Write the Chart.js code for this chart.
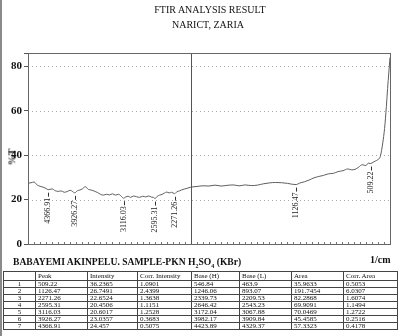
<!DOCTYPE html>
<html>
<head>
<meta charset="utf-8">
<script src="https://cdn.jsdelivr.net/npm/chart.js@4.4.1/dist/chart.umd.min.js"></script>
<style>
  body { margin: 0; background: #fff; }
  #page { position: relative; width: 400px; height: 336px; overflow: hidden; border-left: 2px solid #8a8a8a; box-sizing: border-box; font-family: "Liberation Serif", "Times New Roman", serif; color: #111; }
  #chart { position: absolute; left: -2px; top: 0; }
  .txt { position: absolute; white-space: nowrap; line-height: 1; }
  #ptable { position: absolute; left: 1px; top: 271px; border-collapse: collapse; table-layout: fixed; font-size: 7px; line-height: 6px; }
  #ptable td { border: 1px solid #444; padding: 0 2px; height: 6px; overflow: hidden; white-space: nowrap; }
  #ptable tr.head td { height: 8px; }
  #ptable td.idx { text-align: center; }
</style>
</head>
<body>
<div id="page">
  <canvas id="chart" width="400" height="270"></canvas>
  <div class="txt" style="left:0;width:416px;text-align:center;top:5px;font-size:10px;">FTIR ANALYSIS RESULT</div>
  <div class="txt" style="left:0;width:412px;text-align:center;top:20px;font-size:10px;">NARICT, ZARIA</div>
  <div class="txt" style="left:2px;top:152px;font-size:10px;font-weight:bold;transform:rotate(-90deg);transform-origin:center;">%T</div>
  <div class="txt" style="left:11px;top:257px;font-size:9.6px;font-weight:bold;">BABAYEMI AKINPELU. SAMPLE-PKN H<sub style="font-size:6px;">2</sub>SO<sub style="font-size:6px;">4</sub> (KBr)</div>
  <div class="txt" style="left:368px;top:255px;font-size:10px;font-weight:bold;">1/cm</div>
  <table id="ptable"></table>
</div>
<script>
// spectrum, wavenumber (1/cm) vs %T
var spectrumNu = [4700, 4650, 4600, 4550, 4500, 4450, 4400, 4366.91, 4300, 4250, 4200, 4150, 4100, 4050, 4000, 3960, 3926.27, 3880, 3840, 3800, 3750, 3700, 3650, 3600, 3550, 3500, 3450, 3400, 3350, 3300, 3250, 3200, 3150, 3116.03, 3080, 3040, 3000, 2950, 2900, 2850, 2800, 2750, 2700, 2650, 2620, 2595.31, 2560, 2520, 2480, 2440, 2400, 2360, 2320, 2271.26, 2230, 2190, 2150, 2100, 2050, 2000, 1950, 1900, 1850, 1800, 1750, 1700, 1650, 1600, 1550, 1500, 1450, 1400, 1350, 1300, 1250, 1200, 1160, 1126.47, 1100, 1060, 1020, 980, 940, 900, 860, 820, 780, 740, 700, 670, 640, 610, 580, 550, 530, 509.22, 490, 470, 450, 430, 410, 395, 380, 370, 360, 350];
var spectrumT = [27.3, 27.6, 27.9, 26.6, 26.0, 25.6, 25.0, 24.457, 24.8, 24.0, 23.7, 23.9, 23.3, 23.6, 24.2, 23.6, 23.0357, 24.0, 24.3, 24.8, 25.8, 24.6, 24.3, 23.8, 23.2, 22.4, 22.0, 22.4, 22.1, 22.6, 22.0, 22.4, 21.4, 20.6017, 21.2, 21.5, 21.0, 21.6, 21.3, 21.0, 21.5, 21.2, 21.6, 21.1, 21.0, 20.4506, 21.4, 22.0, 22.3, 22.9, 23.4, 23.0, 23.3, 22.6524, 23.6, 23.9, 24.4, 24.8, 25.2, 25.6, 25.9, 26.2, 26.1, 26.5, 26.1, 26.4, 26.6, 26.2, 26.6, 26.3, 26.5, 27.1, 27.5, 27.7, 27.6, 27.3, 26.9, 26.7491, 27.4, 28.0, 28.8, 29.8, 30.4, 30.9, 31.6, 31.8, 32.6, 33.0, 33.8, 33.4, 33.6, 34.6, 35.7, 35.3, 36.4, 36.2365, 36.8, 37.4, 38.0, 39.5, 45.5, 52, 62, 70, 77, 84];

// peak table
var peakNu = [509.22, 1126.47, 2271.26, 2595.31, 3116.03, 3926.27, 4366.91];
var intensity = [36.2365, 26.7491, 22.6524, 20.4506, 20.6017, 23.0357, 24.457];
var corrIntensity = ['1.0901', '2.4399', '1.3638', '1.1151', '1.2528', '0.3683', '0.5075'];
var baseH = ['546.84', '1246.06', '2339.73', '2646.42', '3172.04', '3982.17', '4423.89'];
var baseL = ['463.9', '893.07', '2209.53', '2543.23', '3067.88', '3909.84', '4329.37'];
var area = ['35.9633', '191.7454', '82.2868', '69.9091', '70.0469', '45.4585', '57.3323'];
var corrArea = ['0.5053', '6.0307', '1.6074', '1.1494', '1.2722', '0.2516', '0.4178'];
var tableHead = ['', 'Peak', 'Intensity', 'Corr. Intensity', 'Base (H)', 'Base (L)', 'Area', 'Corr. Area'];
var colWidths = [32, 52, 50, 54, 48, 52, 52, 54];

// axis is compressed 2:1 above 2000 1/cm
function toAxis(nu) { return nu > 2000 ? 2000 + (nu - 2000) / 2 : nu; }
function fromAxis(u) { return u > 2000 ? 2000 + (u - 2000) * 2 : u; }

var serif = '"Liberation Serif", "Times New Roman", serif';

var points = spectrumNu.map(function(nu, i) { return { x: toAxis(nu), y: spectrumT[i] }; });

// dotted grid behind the curve
var dottedGrid = {
	id: 'dottedGrid',
	beforeDatasetsDraw: function(chart) {
		var ctx = chart.ctx, a = chart.chartArea;
		var xs = chart.scales.x, ys = chart.scales.y;
		ctx.save();
		ctx.strokeStyle = '#a9a9a9';
		ctx.lineWidth = 1;
		ctx.setLineDash([1, 3]);
		xs.ticks.forEach(function(t) {
			if (t.value % 250 !== 0 || t.value === 2000) return;
			var px = Math.round(xs.getPixelForValue(t.value)) + 0.5;
			ctx.beginPath();
			ctx.moveTo(px, a.top);
			ctx.lineTo(px, a.bottom);
			ctx.stroke();
		});
		ys.ticks.forEach(function(t) {
			if (t.value % 20 !== 0 || t.value === 0) return;
			var py = Math.round(ys.getPixelForValue(t.value)) + 0.5;
			ctx.beginPath();
			ctx.moveTo(a.left, py);
			ctx.lineTo(a.right, py);
			ctx.stroke();
		});
		ctx.restore();
	}
};

var frameAndPeaks = {
	id: 'frameAndPeaks',
	afterDatasetsDraw: function(chart) {
		var ctx = chart.ctx, a = chart.chartArea;
		var xs = chart.scales.x, ys = chart.scales.y;
		ctx.save();
		// small ticks along the bottom
		ctx.strokeStyle = '#777';
		ctx.lineWidth = 1;
		for (var u = 400; u < 3350; u += 50) {
			var px = Math.round(xs.getPixelForValue(u)) + 0.5;
			ctx.beginPath();
			ctx.moveTo(px, a.bottom);
			ctx.lineTo(px, a.bottom - 2);
			ctx.stroke();
		}
		// centre line at 2000
		var cx = Math.round(xs.getPixelForValue(2000)) + 0.5;
		ctx.strokeStyle = '#555';
		ctx.beginPath();
		ctx.moveTo(cx, a.top);
		ctx.lineTo(cx, a.bottom);
		ctx.stroke();
		// frame
		ctx.strokeStyle = '#666';
		ctx.strokeRect(Math.round(a.left) + 0.5, Math.round(a.top) + 0.5, Math.round(a.right - a.left), Math.round(a.bottom - a.top));
		// peak labels
		ctx.fillStyle = '#222';
		ctx.strokeStyle = '#333';
		ctx.font = '8px ' + serif;
		ctx.textAlign = 'right';
		ctx.textBaseline = 'middle';
		peakNu.forEach(function(nu, i) {
			var x = xs.getPixelForValue(toAxis(nu));
			var y = ys.getPixelForValue(intensity[i]) + 3;
			ctx.beginPath();
			ctx.moveTo(Math.round(x) + 0.5, y);
			ctx.lineTo(Math.round(x) + 0.5, y + 4);
			ctx.stroke();
			ctx.save();
			ctx.translate(x, y + 5);
			ctx.rotate(-Math.PI / 2);
			ctx.fillText(nu.toFixed(2), 0, 0);
			ctx.restore();
		});
		ctx.restore();
	}
};

var chart = new Chart(document.getElementById('chart'), {
	type: 'line',
	data: {
		datasets: [{
			data: points,
			borderColor: '#5e5e5e',
			borderWidth: 1,
			pointRadius: 0,
			cubicInterpolationMode: 'monotone',
			fill: false
		}]
	},
	options: {
		responsive: false,
		animation: false,
		devicePixelRatio: 1,
		layout: { padding: { top: 53, right: 10, left: 2, bottom: 0 } },
		plugins: { legend: { display: false }, tooltip: { enabled: false } },
		scales: {
			x: {
				type: 'linear',
				reverse: true,
				min: 350,
				max: 3350,
				afterFit: function(s) { s.height = 26; },
				ticks: {
					stepSize: 250,
					autoSkip: false,
					maxRotation: 0,
					padding: 3,
					color: '#111',
					font: { family: serif, size: 11, weight: 'bold' },
					callback: function(v) { return v % 250 === 0 ? String(fromAxis(v)) : ''; }
				},
				grid: { drawOnChartArea: false, drawTicks: false },
				border: { display: false }
			},
			y: {
				min: 0,
				max: 86,
				afterFit: function(s) { s.width = 26; },
				ticks: {
					stepSize: 20,
					padding: 2,
					color: '#111',
					font: { family: serif, size: 11, weight: 'bold' },
					callback: function(v) { return v % 20 === 0 ? v : ''; }
				},
				grid: { drawOnChartArea: false, tickLength: 4, tickColor: '#555' },
				border: { display: false }
			}
		}
	},
	plugins: [dottedGrid, frameAndPeaks]
});

// peak table under the chart
function buildTable() {
	var t = document.getElementById('ptable');
	var cg = document.createElement('colgroup');
	colWidths.forEach(function(w) {
		var c = document.createElement('col');
		c.style.width = w + 'px';
		cg.appendChild(c);
	});
	t.appendChild(cg);
	var h = t.insertRow();
	h.className = 'head';
	tableHead.forEach(function(s) { h.insertCell().textContent = s; });
	peakNu.forEach(function(nu, i) {
		var r = t.insertRow();
		var cells = [String(i + 1), nu.toFixed(2), String(intensity[i]), corrIntensity[i], baseH[i], baseL[i], area[i], corrArea[i]];
		cells.forEach(function(s, j) {
			var td = r.insertCell();
			td.textContent = s;
			if (j === 0) td.className = 'idx';
		});
	});
	t.style.width = colWidths.reduce(function(a, b) { return a + b; }, 0) + 'px';
}
buildTable();
</script>
</body>
</html>
